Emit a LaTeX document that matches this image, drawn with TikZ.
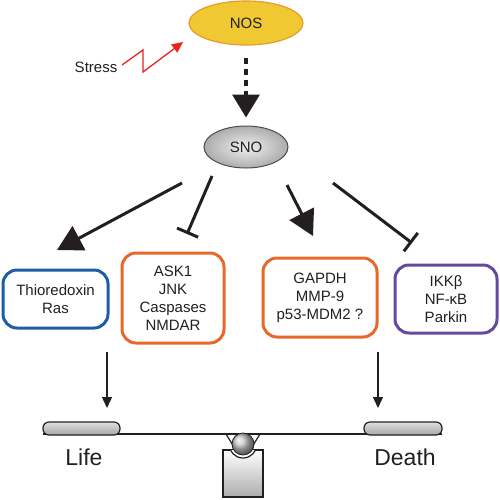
\documentclass[tikz,border=0pt]{standalone}
\usepackage{fontspec}
\setmainfont{Liberation Sans}
\usetikzlibrary{arrows.meta,shapes.geometric}
\definecolor{nosfill}{HTML}{F0C832}
\definecolor{nosedge}{HTML}{E89A2C}
\definecolor{stressred}{HTML}{E8231E}
\definecolor{lifeblue}{HTML}{1F5CA6}
\definecolor{boxorange}{HTML}{E8672A}
\definecolor{boxpurple}{HTML}{6549A0}
\definecolor{ink}{HTML}{231F20}
\begin{document}
\begin{tikzpicture}[x=1pt,y=-1pt,
  font=\fontsize{15}{18}\selectfont, text=ink,
  gbox/.style={draw, line width=3pt, rounded corners=14pt, align=center, inner sep=0pt},
  bigarrow/.style={draw=ink, line width=3pt, -{Triangle[width=27pt,length=25pt]}},
  inhibit/.style={draw=ink, line width=3pt, -{Bar[width=23pt]}},
  thinarrow/.style={draw=ink, line width=1.4pt, -{Triangle[width=10pt,length=11pt]}},
  pad/.style={draw=ink, line width=1.2pt, rounded corners=6pt, top color=gray!25, bottom color=gray!70},
  bigword/.style={font=\fontsize{23}{26}\selectfont}]
\useasboundingbox (0,0) rectangle (500,499);

% top ellipses
\node[ellipse, minimum width=114pt, minimum height=44pt, fill=nosfill, draw=nosedge, line width=1.2pt] (nos) at (246,23) {NOS};
\node[ellipse, minimum width=84pt, minimum height=42pt, draw=ink!80, line width=1pt, inner color=gray!12, outer color=gray!65] (sno) at (246,147) {SNO};

% stress
\node (stress) at (96,67) {Stress};
\coordinate (z0) at (122,65);
\coordinate (z1) at (143,50);
\coordinate (z2) at (143,72);
\coordinate (z3) at (183,42);
\draw[stressred, line width=1.3pt, -{Triangle[width=10pt,length=11pt]}] (z0) -- (z1) -- (z2) -- (z3);

% dashed arrow
\draw[draw=ink, line width=3.5pt, dash pattern=on 6pt off 5pt, shorten <=12pt, shorten >=8pt,
  -{Triangle[width=27pt,length=23pt]}] (nos) -- (sno);

% boxes
\node[gbox, draw=lifeblue, minimum width=105pt, minimum height=58pt] (b1) at (55.5,299) {Thioredoxin\\Ras};
\node[gbox, draw=boxorange, minimum width=102pt, minimum height=90pt] (b2) at (173,298) {ASK1\\JNK\\Caspases\\NMDAR};
\node[gbox, draw=boxorange, minimum width=114pt, minimum height=79pt] (b3) at (320,297.5) {GAPDH\\MMP-9\\p53-MDM2 ?};
\node[gbox, draw=boxpurple, minimum width=102pt, minimum height=68pt] (b4) at (446,299) {IKKβ\\NF-κB\\Parkin};

% arrows from SNO
\coordinate (s1) at (182,183); \coordinate (e1) at (57,250);
\coordinate (s2) at (212,176); \coordinate (e2) at (187,234);
\coordinate (s3) at (287,185); \coordinate (e3) at (313,236);
\coordinate (s4) at (333,183); \coordinate (e4) at (412,243);
\draw[bigarrow] (s1) -- (e1);
\draw[inhibit] (s2) -- (e2);
\draw[bigarrow] (s3) -- (e3);
\draw[inhibit] (s4) -- (e4);

% down arrows
\coordinate (l1) at (107,352); \coordinate (l2) at (107,408);
\coordinate (d1) at (378,352); \coordinate (d2) at (378,408);
\draw[thinarrow] (l1) -- (l2);
\draw[thinarrow] (d1) -- (d2);

% seesaw
\coordinate (ballc) at (243,444);
\draw[draw=ink, line width=1.2pt, top color=white, bottom color=gray!65] (223,450) rectangle (263,497);
\begin{scope}
  \clip (223,450) rectangle (263,497);
  \draw[draw=ink, line width=1.2pt, fill=white] (ballc) circle[radius=14];
\end{scope}
\draw[draw=ink, line width=1.2pt, fill=white] (226,434) -- (234,447) -- (252,447) -- (260,434) -- cycle;
\draw[draw=ink, line width=2.5pt] (43,434) -- (442,434);
\node[pad, minimum width=77pt, minimum height=13pt, inner sep=0pt] (padl) at (81.5,428.5) {};
\node[pad, minimum width=78pt, minimum height=13pt, inner sep=0pt] (padr) at (403,428.5) {};
\shade[ball color=gray!45] (ballc) circle[radius=11];
\draw[draw=ink, line width=0.8pt] (ballc) circle[radius=11];
\node[bigword] (life) at (84,457) {Life};
\node[bigword] (death) at (405,457) {Death};
\end{tikzpicture}
\end{document}
